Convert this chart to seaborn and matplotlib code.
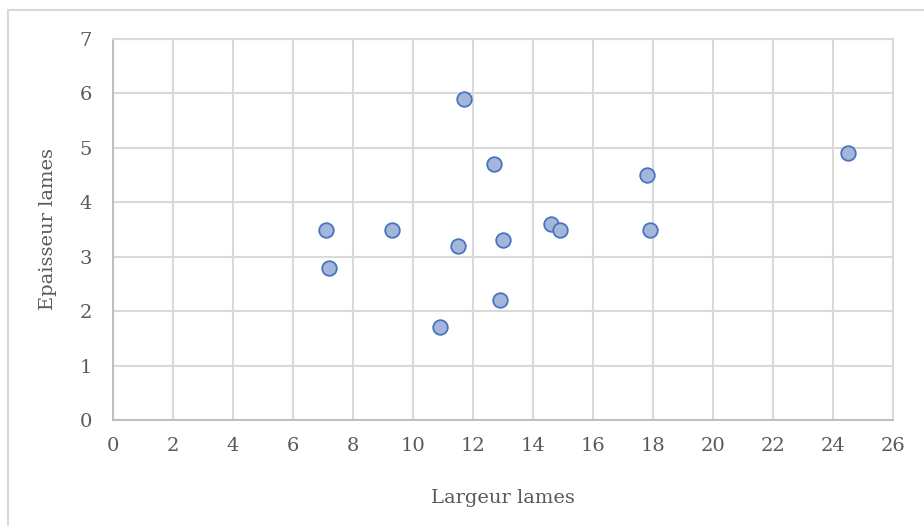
import matplotlib
matplotlib.use("Agg")
import matplotlib.pyplot as plt
import seaborn as sns
import pandas as pd
from matplotlib.patches import Rectangle

# values
largeur = [7.1, 7.2, 9.3, 10.9, 11.5, 11.7, 12.7, 12.9, 13.0, 14.6, 14.9, 17.8, 17.9, 24.5]
epaisseur = [3.5, 2.8, 3.5, 1.7, 3.2, 5.9, 4.7, 2.2, 3.3, 3.6, 3.5, 4.5, 3.5, 4.9]
x_ticks = list(range(0, 27, 2))
y_ticks = list(range(0, 8))

df = pd.DataFrame({"Largeur lames": largeur, "Epaisseur lames": epaisseur})

sns.set_style("white")
plt.rcParams["font.family"] = ["DejaVu Serif"]

text_col = "#595959"
grid_col = "#d9d9d9"

fig = plt.figure(figsize=(9.24, 5.26), dpi=100)
ax = fig.add_axes([113 / 924, 1 - 420 / 526, 780 / 924, 381 / 526])

# outer chart border (only left/top visible in the reference)
fig.patches.append(Rectangle((8 / 924, -0.1), 1.2, 1 - 9.5 / 526 + 0.1,
                             transform=fig.transFigure, fill=False,
                             edgecolor=grid_col, linewidth=1.5))

sns.scatterplot(data=df, x="Largeur lames", y="Epaisseur lames", ax=ax,
                s=110, color="#a3b7dc", edgecolor="#4a74bd", linewidth=1.3,
                zorder=3)

ax.set_xlim(0, 26)
ax.set_ylim(0, 7)
ax.set_xticks(x_ticks)
ax.set_yticks(y_ticks)
ax.grid(True, color=grid_col, linewidth=1.5)
ax.set_axisbelow(True)

for side in ["top", "right"]:
    ax.spines[side].set_color(grid_col)
    ax.spines[side].set_linewidth(1.5)
for side in ["left", "bottom"]:
    ax.spines[side].set_color("#bfbfbf")
    ax.spines[side].set_linewidth(1.5)

ax.tick_params(axis="both", length=0, labelsize=14, labelcolor=text_col)
ax.tick_params(axis="x", pad=12)
ax.tick_params(axis="y", pad=15)

ax.set_xlabel("Largeur lames", fontsize=14, color=text_col, labelpad=25)
ax.set_ylabel("Epaisseur lames", fontsize=14, color=text_col, labelpad=16)

fig.savefig("out.png", dpi=100)
